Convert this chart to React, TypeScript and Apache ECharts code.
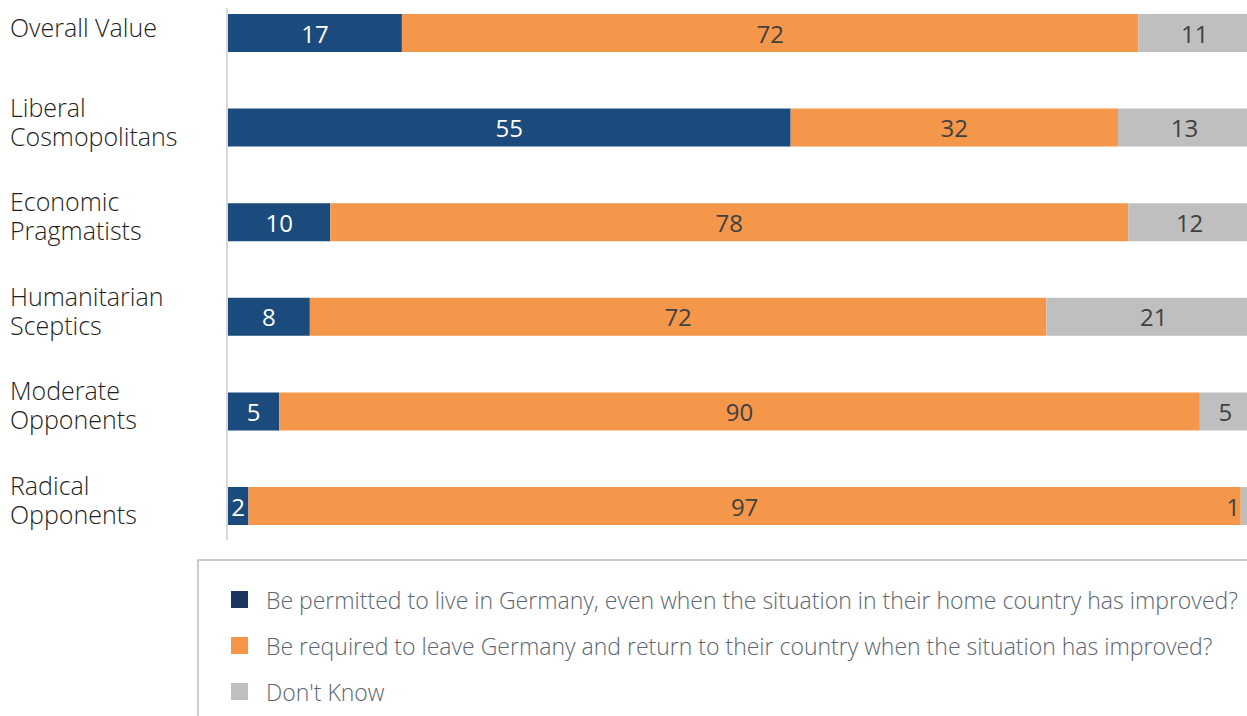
import React, { useEffect, useRef } from "react";
import * as echarts from "echarts";

const categories = [
  "Overall Value",
  "Liberal\nCosmopolitans",
  "Economic\nPragmatists",
  "Humanitarian\nSceptics",
  "Moderate\nOpponents",
  "Radical\nOpponents",
];
const permitted = [17, 55, 10, 8, 5, 2];
const required = [72, 32, 78, 72, 90, 97];
const dontKnow = [11, 13, 12, 21, 5, 1];
const seriesNames = [
  "Be permitted to live in Germany, even when the situation in their home country has improved?",
  "Be required to leave Germany and return to their country when the situation has improved?",
  "Don't Know",
];

export default function App() {
  const ref = useRef<HTMLDivElement>(null);
  useEffect(() => {
    if (!ref.current) return;
    const chart = echarts.init(ref.current, null, { renderer: "svg" });
    const labelFont = "'Open Sans', sans-serif";
    const mkSeries = (name: string, data: number[], color: string, labelColor: string) => ({
      name,
      type: "bar",
      stack: "total",
      barWidth: 38,
      clip: false,
      xAxisIndex: 0,
      yAxisIndex: 0,
      data: data.map((v) =>
        v < 2 ? { value: v, label: { position: "insideRight", distance: 11 } } : v
      ),
      itemStyle: { color },
      label: {
        show: true,
        position: "inside",
        color: labelColor,
        fontFamily: labelFont,
        fontSize: 24,
        formatter: "{c}",
      },
    });
    chart.setOption({
      animation: false,
      grid: [
        { left: 228, right: 0, top: 33, bottom: 210 },
        { left: 228, right: 0, top: 26.5, bottom: 216.5 },
      ],
      xAxis: [
        { type: "value", min: 0, max: 100, show: false, gridIndex: 0 },
        { type: "value", min: 0, max: 100, show: false, gridIndex: 1 },
      ],
      yAxis: [
        {
          type: "category",
          gridIndex: 0,
          data: categories,
          inverse: true,
          boundaryGap: false,
          show: false,
        },
        {
          type: "category",
          gridIndex: 1,
          data: categories,
          inverse: true,
          boundaryGap: false,
          axisLine: { show: false },
          axisTick: { show: false },
          splitLine: { show: false },
          axisLabel: {
            align: "left",
            margin: 218,
            color: "#1e1e1e",
            fontFamily: "'Open Sans', sans-serif",
            fontWeight: 300,
            fontSize: 25,
            lineHeight: 29,
          },
        },
      ],
      legend: {
        orient: "vertical",
        left: 226,
        top: 583,
        icon: "rect",
        itemWidth: 17,
        itemHeight: 17,
        itemGap: 23,
        selectedMode: false,
        textStyle: {
          color: "#5b6573",
          fontFamily: "'Open Sans', sans-serif",
          fontWeight: 300,
          fontSize: 23,
          lineHeight: 22,
          padding: [0, 0, 0, 13],
        },
        data: [
          { name: seriesNames[0], itemStyle: { color: "#1c365f" } },
          { name: seriesNames[1], itemStyle: { color: "#f79646" } },
          { name: seriesNames[2], itemStyle: { color: "#bfbfbf" } },
        ],
      },
      graphic: [
        {
          type: "line",
          shape: { x1: 227, y1: 8, x2: 227, y2: 540 },
          style: { stroke: "#d9d9d9", lineWidth: 2 },
          z: 0,
        },
        {
          type: "rect",
          shape: { x: 198, y: 560, width: 1200, height: 300 },
          style: { fill: "none", stroke: "#cccccc", lineWidth: 2 },
          z: 0,
        },
      ],
      series: [
        mkSeries(seriesNames[0], permitted, "#1b4a7d", "#ffffff"),
        mkSeries(seriesNames[1], required, "#f4974a", "#404040"),
        mkSeries(seriesNames[2], dontKnow, "#bfbfbf", "#404040"),
      ],
    });
    return () => chart.dispose();
  }, []);
  return (
    <div style={{ position: "absolute", left: 0, top: 0, width: 1247, height: 716, overflow: "hidden", background: "#fff" }}>
      <div ref={ref} style={{ width: 1251, height: 716 }} />
    </div>
  );
}
